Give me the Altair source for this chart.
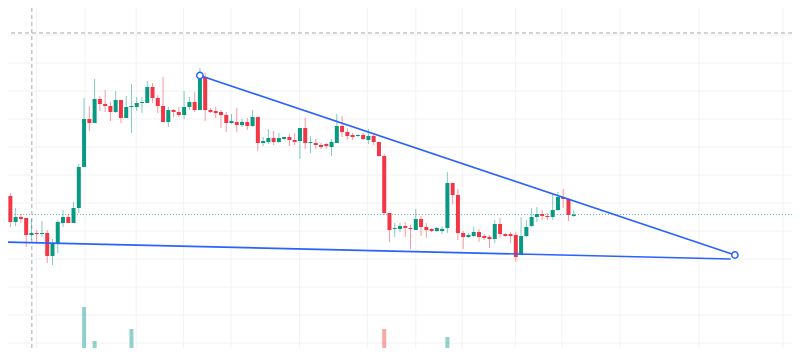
import altair as alt
import pandas as pd

# Candle OHLC (price units), one entry per bar index 0..108
opens = [160, 204, 178, 183, 182, 165, 167, 166, 167, 144,
         157, 177, 183, 177, 192, 233, 281, 277, 301, 296,
         294, 288, 300, 282, 293, 293, 297, 297, 313, 302,
         294, 278, 290, 288, 285, 293, 298, 290, 323, 290,
         289, 288, 285, 277, 278, 275, 278, 274, 283, 257,
         258, 262, 258, 261, 263, 260, 259, 272, 257, 257,
         255, 256, 253, 257, 274, 268, 265, 264, 265, 260,
         264, 258, 244, 187, 171, 171, 174, 172, 170, 181,
         173, 171, 169, 169, 172, 217, 205, 167, 163, 164,
         168, 164, 163, 161, 176, 166, 166, 165, 145, 164,
         174, 183, 186, 184, 183, 190, 203, 201, 184]
highs = [207, 207, 192, 186, 182, 181, 170, 179, 170, 161,
         180, 190, 186, 198, 236, 302, 294, 321, 304, 310,
         298, 309, 300, 304, 316, 303, 303, 319, 317, 305,
         323, 293, 291, 293, 309, 303, 308, 332, 327, 292,
         293, 290, 288, 286, 292, 281, 282, 290, 283, 263,
         271, 269, 267, 263, 266, 267, 272, 282, 264, 261,
         257, 257, 261, 286, 284, 272, 267, 266, 267, 271,
         265, 258, 246, 187, 177, 177, 178, 175, 191, 184,
         177, 172, 173, 174, 228, 217, 211, 169, 167, 173,
         171, 166, 165, 180, 182, 167, 168, 168, 183, 180,
         192, 193, 190, 187, 206, 208, 211, 202, 190]
lows = [152, 173, 174, 177, 153, 160, 158, 163, 137, 135,
        147, 173, 177, 177, 187, 233, 269, 277, 289, 288,
        279, 287, 277, 282, 267, 289, 287, 297, 297, 287,
        278, 273, 283, 283, 281, 290, 288, 290, 279, 287,
        282, 272, 268, 276, 268, 273, 270, 273, 249, 254,
        256, 255, 257, 260, 254, 255, 241, 251, 247, 251,
        251, 251, 244, 257, 263, 260, 260, 263, 260, 256,
        255, 243, 185, 158, 163, 168, 163, 151, 170, 164,
        162, 168, 168, 166, 167, 196, 160, 151, 162, 163,
        158, 160, 152, 157, 162, 163, 157, 138, 145, 163,
        173, 178, 180, 180, 180, 189, 192, 179, 183]
closes = [205, 178, 183, 181, 165, 167, 166, 167, 144, 157,
          178, 183, 177, 192, 233, 281, 277, 301, 296, 294,
          288, 300, 282, 293, 294, 297, 298, 313, 302, 294,
          278, 290, 288, 285, 293, 298, 290, 323, 290, 288,
          287, 285, 277, 279, 275, 278, 274, 283, 257, 259,
          262, 258, 262, 263, 260, 258, 272, 257, 258, 255,
          253, 254, 258, 274, 268, 264, 263, 265, 261, 264,
          258, 244, 187, 170, 172, 174, 172, 171, 181, 173,
          170, 169, 172, 171, 217, 205, 167, 163, 165, 168,
          163, 162, 161, 176, 166, 164, 164, 143, 164, 173,
          183, 186, 184, 183, 190, 203, 201, 185, 185.5]
volumes = [107, 85, 60, 35, 70, 40, 30, 35, 80, 75,
           70, 45, 30, 60, 95, 149, 103, 115, 50, 55,
           50, 60, 65, 50, 127, 40, 35, 80, 55, 50,
           85, 55, 30, 35, 60, 40, 55, 95, 90, 25,
           30, 45, 50, 30, 45, 25, 35, 45, 90, 30,
           40, 35, 30, 20, 35, 30, 70, 65, 40, 30,
           25, 25, 45, 80, 55, 35, 25, 20, 30, 40,
           35, 55, 127, 90, 40, 30, 40, 50, 55, 45,
           40, 20, 20, 25, 119, 70, 95, 50, 25, 30,
           35, 20, 35, 55, 45, 20, 30, 85, 75, 50,
           55, 40, 30, 25, 60, 55, 45, 65, 20]

# Grid positions (bar index / price units)
grid_x = [6.0, 15.2, 24.9, 33.9, 42.9, 55.9, 68.8, 78.0, 86.8, 96.9,
          105.75, 116.8, 131.8, 147.75]
grid_y = [57, 85, 113, 141, 169, 197, 225, 253, 281, 309, 337, 365]

# Drawing (trend lines) anchors
line_names = ["upper", "upper", "lower", "lower"]
line_k = [37, 138.6, -1, 137.8]
line_p = [324.5, 145, 158.1, 141]
anchor_k = [37, 138.6]
anchor_p = [324.5, 145]

last_price = 185.5
cross_k = 5.06
cross_p = 367

GREEN = "#089981"
RED = "#F23645"
BLUE = "#2962FF"

n = len(opens)
df = pd.DataFrame({
    "k": list(range(n)),
    "open": opens, "high": highs, "low": lows, "close": closes,
    "vol": volumes,
})
df["dir"] = ["up" if c >= o else "down" for o, c in zip(opens, closes)]

xs = alt.Scale(domain=[1.5, 148.5], nice=False, zero=False)
ys = alt.Scale(domain=[52, 392], nice=False, zero=False)
col = alt.Color("dir:N", scale=alt.Scale(domain=["up", "down"], range=[GREEN, RED]), legend=None)
vcol = alt.Color("dir:N", scale=alt.Scale(domain=["up", "down"], range=["#26A69A", "#EF5350"]), legend=None)

gx = alt.Chart(pd.DataFrame({"g": grid_x})).mark_rule(color="#F2F2F2", strokeWidth=1).encode(
    x=alt.X("g:Q", scale=xs, axis=None))
gy = alt.Chart(pd.DataFrame({"g": grid_y})).mark_rule(color="#F2F2F2", strokeWidth=1, clip=True).encode(
    y=alt.Y("g:Q", scale=ys, axis=None))

vol = alt.Chart(df).mark_bar(size=4, opacity=0.5, clip=True).encode(
    x=alt.X("k:Q", scale=xs, axis=None),
    y=alt.Y("vol:Q", scale=alt.Scale(domain=[108, 448], nice=False, zero=False), axis=None),
    color=vcol)

cross_v = alt.Chart(pd.DataFrame({"c": [cross_k]})).mark_rule(
    color="#C3C5CB", strokeDash=[4, 3], strokeWidth=1.5).encode(x=alt.X("c:Q", scale=xs, axis=None))
cross_h = alt.Chart(pd.DataFrame({"c": [cross_p]})).mark_rule(
    color="#C3C5CB", strokeDash=[4, 3], strokeWidth=1.5).encode(y=alt.Y("c:Q", scale=ys, axis=None))

pline = alt.Chart(pd.DataFrame({"p": [last_price]})).mark_rule(
    color=GREEN, opacity=0.6, strokeDash=[1, 2], strokeWidth=1).encode(y=alt.Y("p:Q", scale=ys, axis=None))

wicks = alt.Chart(df).mark_rule(strokeWidth=1, opacity=0.5, clip=True).encode(
    x=alt.X("k:Q", scale=xs, axis=None),
    y=alt.Y("low:Q", scale=ys, axis=None),
    y2="high:Q",
    color=col)

bodies = alt.Chart(df).mark_bar(size=4, clip=True).encode(
    x=alt.X("k:Q", scale=xs, axis=None),
    y=alt.Y("open:Q", scale=ys, axis=None),
    y2="close:Q",
    color=col)

lines = alt.Chart(pd.DataFrame({"name": line_names, "k": line_k, "p": line_p})).mark_line(
    color=BLUE, strokeWidth=1.6, clip=True).encode(
    x=alt.X("k:Q", scale=xs, axis=None),
    y=alt.Y("p:Q", scale=ys, axis=None),
    detail="name:N")

anchors = alt.Chart(pd.DataFrame({"k": anchor_k, "p": anchor_p})).mark_point(
    shape="circle", size=40, fill="white", fillOpacity=1, stroke=BLUE, strokeWidth=1.5,
    opacity=1).encode(
    x=alt.X("k:Q", scale=xs, axis=None),
    y=alt.Y("p:Q", scale=ys, axis=None))

chart = alt.layer(gx, gy, vol, cross_v, cross_h, pline, wicks, bodies, lines, anchors).resolve_scale(
    y="independent", color="independent").properties(
    width=784, height=340, padding=0, autosize=alt.AutoSizeParams(type="none"),
    background="white").configure_view(strokeWidth=0)

chart.save("out.html", embed_options={"renderer": "svg", "actions": False})
